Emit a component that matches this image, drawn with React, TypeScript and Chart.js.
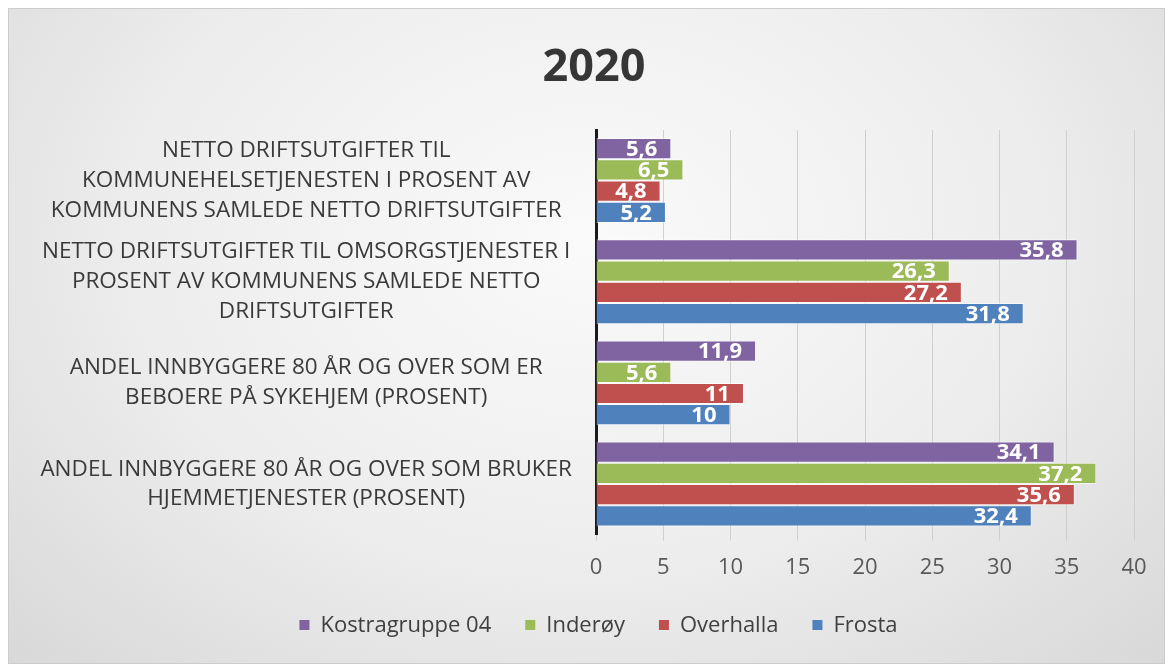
import React, { useEffect, useRef } from "react";
import { Chart, registerables } from "chart.js";

Chart.register(...registerables);

const TITLE = "2020";
const CATEGORIES: string[][] = [
  ["NETTO DRIFTSUTGIFTER TIL", "KOMMUNEHELSETJENESTEN I PROSENT AV", "KOMMUNENS SAMLEDE NETTO DRIFTSUTGIFTER"],
  ["NETTO DRIFTSUTGIFTER TIL OMSORGSTJENESTER I", "PROSENT AV KOMMUNENS SAMLEDE NETTO", "DRIFTSUTGIFTER"],
  ["ANDEL INNBYGGERE 80 ÅR OG OVER SOM ER", "BEBOERE PÅ SYKEHJEM (PROSENT)"],
  ["ANDEL INNBYGGERE 80 ÅR OG OVER SOM BRUKER", "HJEMMETJENESTER (PROSENT)"],
];
const SERIES_NAMES = ["Kostragruppe 04", "Inderøy", "Overhalla", "Frosta"];
const KOSTRAGRUPPE = [5.6, 35.8, 11.9, 34.1];
const INDEROY = [6.5, 26.3, 5.6, 37.2];
const OVERHALLA = [4.8, 27.2, 11, 35.6];
const FROSTA = [5.2, 31.8, 10, 32.4];
const COLORS = ["#8064A2", "#9BBB59", "#C0504D", "#4F81BD"];
const X_MIN = 0;
const X_MAX = 40;
const X_STEP = 5;

const FONT = "'Open Sans', 'Noto Sans', sans-serif";

const fmt = (v: number) => String(v).replace(".", ",");

const titlePlugin = {
  id: "customTitle",
  afterDraw(chart: any) {
    const ctx = chart.ctx;
    ctx.save();
    ctx.font = `bold 45px ${FONT}`;
    ctx.fillStyle = "#363636";
    ctx.textAlign = "center";
    ctx.textBaseline = "middle";
    ctx.fillText(TITLE, 586, 60);
    ctx.restore();
  },
};

const dataLabelPlugin = {
  id: "dataLabels",
  afterDatasetsDraw(chart: any) {
    const ctx = chart.ctx;
    ctx.save();
    ctx.font = `bold 22px ${FONT}`;
    ctx.fillStyle = "#ffffff";
    ctx.textAlign = "right";
    ctx.textBaseline = "middle";
    chart.data.datasets.forEach((ds: any, di: number) => {
      const meta = chart.getDatasetMeta(di);
      meta.data.forEach((bar: any, i: number) => {
        const v = ds.data[i];
        ctx.fillText(fmt(v), bar.x - 14, bar.y + 1);
      });
    });
    ctx.restore();
  },
};

const legendPlugin = {
  id: "customLegend",
  afterDraw(chart: any) {
    const ctx = chart.ctx;
    ctx.save();
    ctx.font = `22px ${FONT}`;
    ctx.textBaseline = "middle";
    ctx.textAlign = "left";
    const box = 10;
    const gap = 11;
    const itemGap = 34;
    const items = chart.data.datasets.map((ds: any) => ({
      label: ds.label,
      color: ds.backgroundColor,
      w: box + gap + ctx.measureText(ds.label).width,
    }));
    const total = items.reduce((s: number, it: any) => s + it.w, 0) + itemGap * (items.length - 1);
    let x = chart.width / 2 + 12 - total / 2;
    const y = chart.height - 38;
    items.forEach((it: any) => {
      ctx.fillStyle = it.color;
      ctx.fillRect(x, y - box / 2 - 1, box, box);
      ctx.fillStyle = "#404040";
      ctx.fillText(it.label, x + box + gap, y);
      x += it.w + itemGap;
    });
    ctx.restore();
  },
};

export default function App() {
  const ref = useRef<HTMLCanvasElement | null>(null);
  useEffect(() => {
    if (!ref.current) return;
    const data = [KOSTRAGRUPPE, INDEROY, OVERHALLA, FROSTA];
    const chart = new Chart(ref.current, {
      type: "bar",
      data: {
        labels: CATEGORIES,
        datasets: SERIES_NAMES.map((name, i) => ({
          label: name,
          data: data[i],
          backgroundColor: COLORS[i],
          borderColor: "rgba(255,255,255,0.55)",
          borderWidth: 1,
          categoryPercentage: 0.84,
          barPercentage: 1.0,
        })),
      },
      options: {
        indexAxis: "y",
        animation: false,
        responsive: true,
        maintainAspectRatio: false,
        layout: { padding: { top: 122, right: 31, bottom: 69, left: 0 } },
        plugins: {
          legend: { display: false },
          tooltip: { enabled: false },
          title: { display: false },
        },
        scales: {
          x: {
            min: X_MIN,
            max: X_MAX,
            ticks: {
              stepSize: X_STEP,
              color: "#595959",
              font: { family: FONT, size: 22 },
              padding: 14,
            },
            grid: { color: "#cfcfcf", lineWidth: 1, tickLength: 6 },
            border: { display: false },
          },
          y: {
            afterFit: (s: any) => {
              s.width = 588;
            },
            ticks: {
              autoSkip: false,
              crossAlign: "center",
              color: "#3a3a3a",
              font: { family: FONT, size: 22.5, lineHeight: 1.32 },
              padding: 24,
            },
            grid: { display: false, drawTicks: false },
            border: { display: true, color: "#1a1a1a", width: 3 },
          },
        },
      },
      plugins: [titlePlugin, dataLabelPlugin, legendPlugin],
    } as any);
    return () => chart.destroy();
  }, []);
  return (
    <div
      style={{
        width: 1157,
        height: 656,
        position: "relative",
        background: "radial-gradient(ellipse at 50% 35%, #fafafa 0%, #ededed 55%, #d8d8d8 100%)",
        boxShadow: "inset 0 0 0 1px #cccccc",
      }}
    >
      <canvas ref={ref} />
    </div>
  );
}
